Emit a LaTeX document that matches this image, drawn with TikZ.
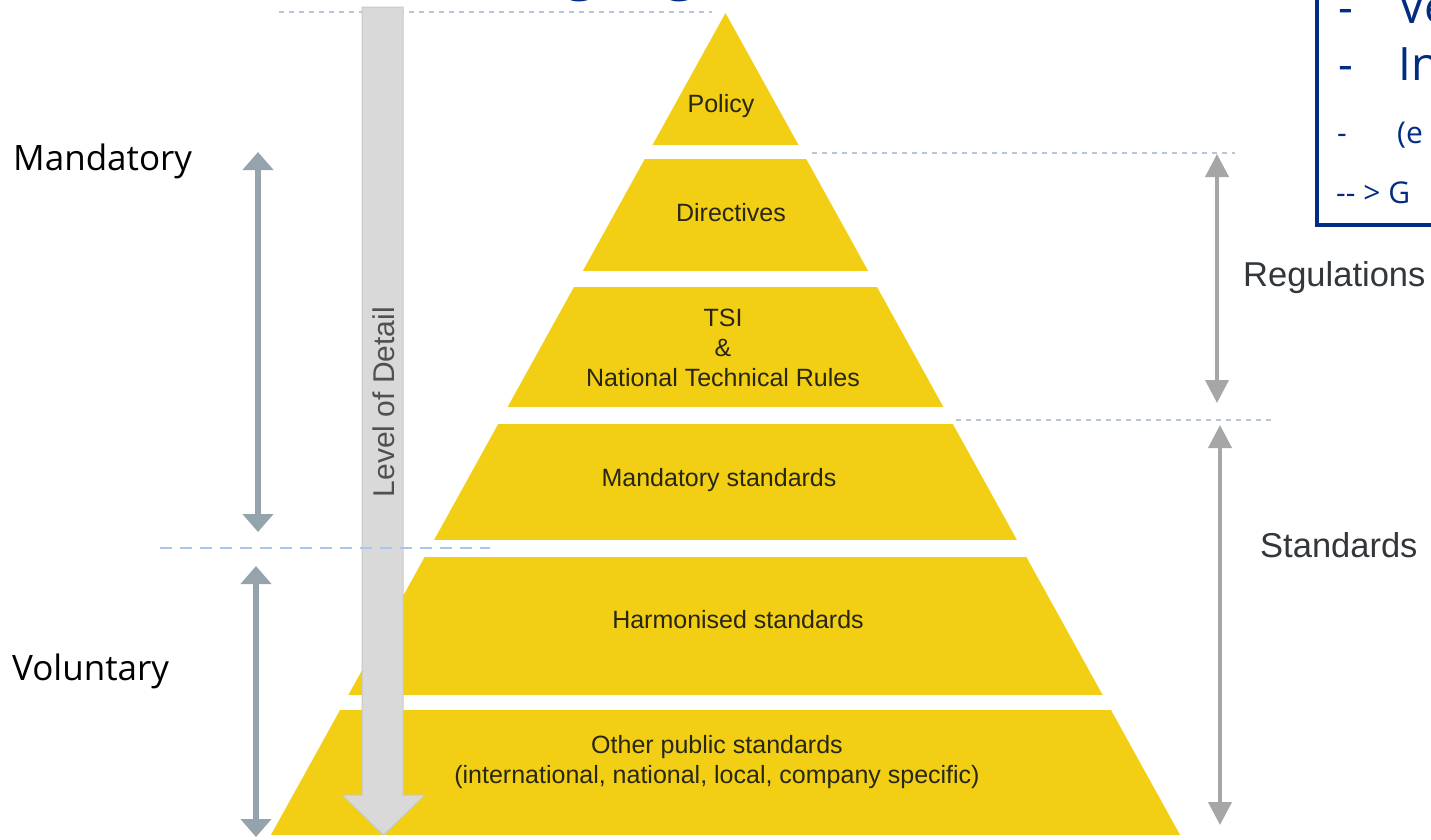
\documentclass[tikz,border=0pt]{standalone}
\usepackage{fontspec}
\setmainfont{Liberation Sans}
\newfontfamily\osans{Open Sans}
\usetikzlibrary{arrows.meta}
\definecolor{pyr}{RGB}{242,207,20}
\definecolor{pyrtext}{RGB}{40,38,20}
\definecolor{sidetext}{RGB}{50,55,60}
\definecolor{leftarr}{RGB}{149,163,172}
\definecolor{rightarr}{RGB}{166,166,166}
\definecolor{barfill}{RGB}{217,217,217}
\definecolor{baredge}{RGB}{200,200,200}
\definecolor{bartext}{RGB}{80,80,80}
\definecolor{dotline}{RGB}{185,198,214}
\definecolor{divline}{RGB}{170,198,240}
\definecolor{navy}{RGB}{0,45,130}
\begin{document}
\begin{tikzpicture}[x=1pt,y=-1pt,
  pyrlabel/.style={text=pyrtext,font=\fontsize{25}{30}\selectfont,align=center,inner sep=0pt},
  sidelabel/.style={text=sidetext,font=\fontsize{34.5}{40}\selectfont,inner sep=0pt,anchor=base west},
  leftlabel/.style={text=black,font=\osans\fontsize{35}{42}\selectfont,inner sep=0pt,anchor=base west},
  boxbig/.style={text=navy,font=\osans\fontsize{46}{55}\selectfont,inner sep=0pt,anchor=base west},
  boxsmall/.style={text=navy,font=\osans\fontsize{30}{36}\selectfont,inner sep=0pt,anchor=base west},
  leftarrow/.style={draw=leftarr,line width=6pt,{Triangle[length=18pt,width=30pt]}-{Triangle[length=18pt,width=30pt]}},
  rightarrow/.style={draw=rightarr,line width=4pt,{Triangle[length=23pt,width=23pt]}-{Triangle[length=23pt,width=23pt]}},
  dotted line/.style={draw=dotline,line width=2pt,dash pattern=on 5pt off 5pt},
  divider/.style={draw=divline,line width=2pt,dash pattern=on 12pt off 8pt},
]
\useasboundingbox (0,0) rectangle (1431,839);

% title, cropped by the top edge (only descenders show)
\node[text=navy,font=\osans\fontsize{60}{70}\selectfont,inner sep=0pt,anchor=base] (g1) at (581,-13) {g};
\node[text=navy,font=\osans\fontsize{60}{70}\selectfont,inner sep=0pt,anchor=base] (g2) at (681,-13) {g};

% dotted guide lines
\coordinate (d1a) at (279,12); \coordinate (d1b) at (712,12);
\draw[dotted line] (d1a) -- (d1b);
\coordinate (d2a) at (812,153); \coordinate (d2b) at (1235,153);
\draw[dotted line] (d2a) -- (d2b);
\coordinate (d3a) at (956,420); \coordinate (d3b) at (1272,420);
\draw[dotted line] (d3a) -- (d3b);

% pyramid
\begin{scope}
\clip (725.5,13) -- (270.9,835) -- (1180.1,835) -- cycle;
\foreach \t/\b in {13/145,159/271,287/407,424/540,557/695,710/835}
  \fill[pyr] (200,\t) rectangle (1250,\b);
\end{scope}

\node[pyrlabel] (policy) at (721,106) {Policy};
\node[pyrlabel] (directives) at (731,213) {Directives};
\node[pyrlabel] (tsi) at (723,348) {TSI\\\&\\National Technical Rules};
\node[pyrlabel] (mandstd) at (719,480) {Mandatory standards};
\node[pyrlabel] (harmstd) at (738,620) {Harmonised standards};
\node[pyrlabel] (otherstd) at (717,762) {Other public standards\\(international, national, local, company specific)};

% level of detail bar
\draw[fill=barfill,draw=baredge,line width=1pt] (362,7) -- (403,7) -- (403,795) -- (425,795) -- (383.5,835) -- (342,795) -- (362,795) -- cycle;
\node[rotate=90,text=bartext,font=\fontsize{30}{36}\selectfont,inner sep=0pt] (lod) at (384,402) {Level of Detail};

% mandatory / voluntary divider
\coordinate (dva) at (160,548); \coordinate (dvb) at (490,548);
\draw[divider] (dva) -- (dvb);

% left arrows
\coordinate (mt) at (258,152); \coordinate (mb) at (258,532);
\draw[leftarrow] (mt) -- (mb);
\coordinate (vt) at (256,566); \coordinate (vb) at (256,837);
\draw[leftarrow] (vt) -- (vb);
\node[leftlabel] (mand) at (13,170) {Mandatory};
\node[leftlabel] (vol) at (12,680) {Voluntary};

% right arrows
\coordinate (rt) at (1217,154); \coordinate (rb) at (1217,403);
\draw[rightarrow] (rt) -- (rb);
\coordinate (st) at (1220,425); \coordinate (sb) at (1220,825);
\draw[rightarrow] (st) -- (sb);
\node[sidelabel] (reg) at (1243,286) {Regulations};
\node[sidelabel] (std) at (1260,557) {Standards};

% blue box (cropped by the page edge)
\coordinate (bx1) at (1317,-5); \coordinate (bx2) at (1436,225);
\draw[navy,line width=4pt] (bx1) |- (bx2);
\node[boxbig] (l1d) at (1338,23) {-};
\node[boxbig] (l1t) at (1398,23) {Ve};
\node[boxbig] (l2d) at (1338,80) {-};
\node[boxbig] (l2t) at (1398,80) {In};
\node[boxsmall] (l3d) at (1337,143) {-};
\node[boxsmall] (l3t) at (1397,143) {(e};
\node[boxsmall] (l4) at (1336,203) {{-}{-} > G};
\end{tikzpicture}
\end{document}
